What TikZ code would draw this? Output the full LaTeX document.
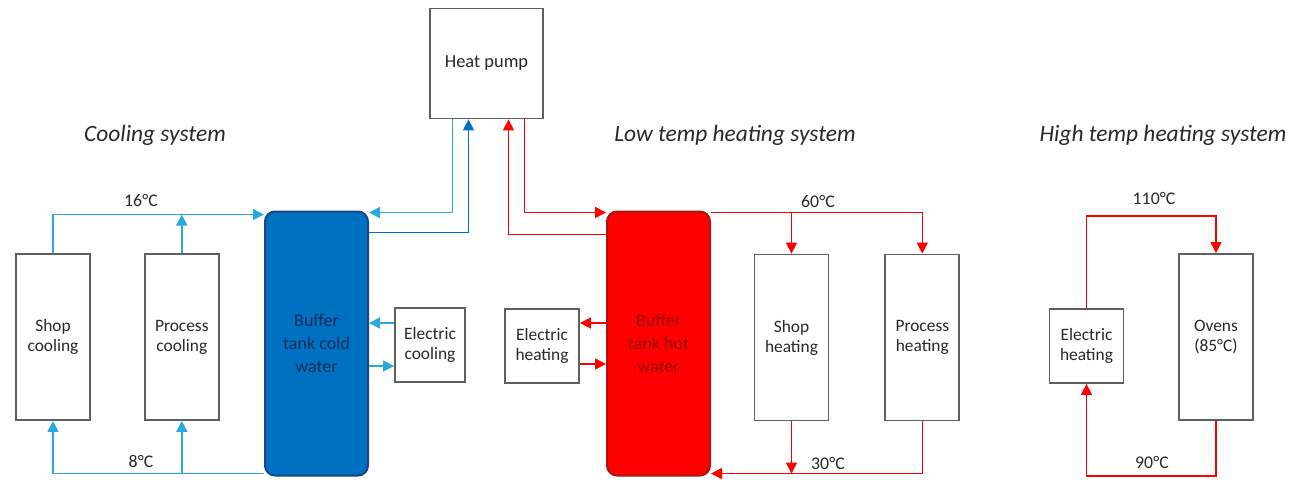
\documentclass[tikz,border=0pt]{standalone}
\usepackage{fontspec}
\setmainfont{Carlito}
\usetikzlibrary{arrows.meta,positioning}

\definecolor{coldline}{RGB}{40,170,222}
\definecolor{tankblue}{RGB}{0,112,192}
\definecolor{tankblueedge}{RGB}{25,70,130}
\definecolor{tankbluetext}{RGB}{20,45,95}
\definecolor{hotred}{RGB}{255,0,0}
\definecolor{tankrededge}{RGB}{170,20,20}
\definecolor{tankredtext}{RGB}{150,0,0}
\definecolor{boxedge}{RGB}{95,95,95}
\definecolor{labeltext}{RGB}{40,40,40}

\begin{document}
\begin{tikzpicture}[
x=0.5pt, y=-0.5pt,
unit/.style={draw=boxedge, line width=0.9pt, fill=white, align=center, text=labeltext,
  font=\fontsize{8.7}{10}\selectfont, inner sep=1pt},
tallbox/.style={unit, minimum width=37pt, minimum height=83pt},
smallbox/.style={unit, minimum width=37pt, minimum height=37pt},
tank/.style={line width=1pt, rounded corners=5pt, align=center, minimum width=51.5pt,
  minimum height=132pt, font=\fontsize{9}{11.5}\selectfont},
coldtank/.style={tank, draw=tankblueedge, fill=tankblue, text=tankbluetext},
hottank/.style={tank, draw=tankrededge, fill=hotred, text=tankredtext},
title/.style={font=\fontsize{11.7}{14}\selectfont\itshape, text=labeltext},
temp/.style={font=\fontsize{8.9}{10}\selectfont, text=labeltext, inner sep=1pt},
tip/.style={-{Triangle[length=5.5pt,width=5.5pt]}},
cold/.style={draw=coldline, line width=0.75pt, tip, coldline},
hot/.style={draw=hotred, line width=0.75pt, tip, hotred},
hpcold/.style={draw=tankblue, line width=0.75pt, tip, tankblue}
]
\useasboundingbox (0,0) rectangle (1292,479);

% titles
\node[title] (tcool) at (155,135) {Cooling system};
\node[title] (tlow) at (735,135) {Low temp heating system};
\node[title] (thigh) at (1163,135) {High temp heating system};

% heat pump and tanks
\node[unit, minimum width=56.5pt, minimum height=55pt, font=\fontsize{9.2}{11}\selectfont] (hp) at (486.5,63.5) {Heat pump};
\node[coldtank] (ctank) at (316.5,343.5) {Buffer\\tank cold\\water};
\node[hottank] (htank) at (658.5,343.5) {Buffer\\tank hot\\water};

% cooling system
\node[tallbox] (shopc) at (53,337) {Shop\\cooling};
\node[tallbox, right=26.5pt of shopc] (procc) {Process\\cooling};
\node[smallbox, minimum width=35pt] (elecc) at (430,345) {Electric\\cooling};

% low temp heating system
\node[smallbox] (elech) at (542,346) {Electric\\heating};
\node[tallbox] (shoph) at (791.5,337.5) {Shop\\heating};
\node[tallbox, right=27.5pt of shoph] (proch) {Process\\heating};

% high temp heating system
\node[smallbox] (htelec) at (1086.5,346) {Electric\\heating};
\node[tallbox] (ovens) at (1216,337) {Ovens\\(85°C)};

% heat pump circuits
\draw[cold] ([xshift=-17pt]hp.south) |- ([yshift=-1pt]ctank.north east);
\draw[hpcold] ([yshift=-11pt]ctank.north east) -| ([xshift=-9pt]hp.south);
\draw[hot] ([yshift=-12pt]htank.north west) -| ([xshift=11pt]hp.south);
\draw[hot] ([xshift=19pt]hp.south) |- ([yshift=-1pt]htank.north west);

% cooling loops
\coordinate (csup) at ([yshift=-2pt]ctank.north west);
\coordinate (cret) at ([yshift=1.5pt]ctank.south west);
\draw[cold] (shopc.north) |- (csup);
\draw[cold] (procc.north) -- (procc.north |- csup);
\draw[cold] (cret) -| (shopc.south);
\draw[cold] (procc.south |- cret) -- (procc.south);
\coordinate (ec1) at ([yshift=11pt]elecc.west);
\coordinate (ec2) at ([yshift=-10.5pt]elecc.west);
\draw[cold] (ec1) -- (ctank.east |- ec1);
\draw[cold] (ctank.east |- ec2) -- (ec2);
\node[temp] (t16) at (141,200) {16°C};
\node[temp] (t8) at (141,461) {8°C};

% low temp loops
\coordinate (hsup) at ([yshift=-1pt]htank.north east);
\coordinate (hret) at ([yshift=1.5pt]htank.south east);
\draw[hot] (hsup) -| (proch.north);
\draw[hot] (shoph.north |- hsup) -- (shoph.north);
\draw[hot] (proch.south) |- (hret);
\draw[hot] (shoph.south) -- (shoph.south |- hret);
\coordinate (eh1) at ([yshift=11.5pt]elech.east);
\coordinate (eh2) at ([yshift=-9pt]elech.east);
\draw[hot] (htank.west |- eh1) -- (eh1);
\draw[hot] (eh2) -- (htank.west |- eh2);
\node[temp] (t60) at (818,201) {60°C};
\node[temp] (t30) at (828,463) {30°C};

% high temp loop
\draw[hot] (htelec.north) |- ([yshift=18.5pt]ovens.north) -- (ovens.north);
\draw[hot] (ovens.south) -- ([yshift=-27.5pt]ovens.south) -| (htelec.south);
\node[temp] (t110) at (1154,198) {110°C};
\node[temp] (t90) at (1152,462) {90°C};
\end{tikzpicture}
\end{document}
